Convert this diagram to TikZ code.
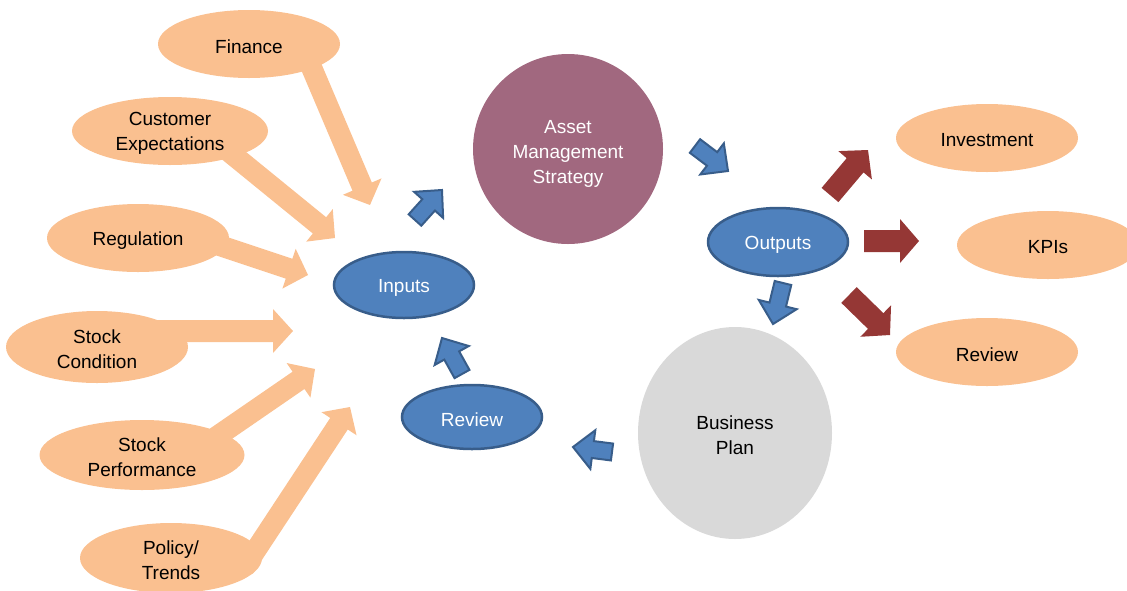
\documentclass[tikz,border=0pt]{standalone}
\usepackage{fontspec}
\setmainfont{Liberation Sans}
\usetikzlibrary{shapes.geometric,calc}

\definecolor{peach}{RGB}{250,192,144}
\definecolor{steel}{RGB}{79,129,189}
\definecolor{steeledge}{RGB}{56,93,138}
\definecolor{mauve}{RGB}{161,104,127}
\definecolor{brick}{RGB}{149,55,53}
\definecolor{silver}{RGB}{217,217,217}

% Block arrow polygon: #1 style, #2 tail, #3 tip,
% #4 half shaft width, #5 half head width, #6 head length
\newcommand\blockarrow[6]{%
  \path[#1]
    ($(#2)!#4!90:(#3)$)
    -- ($(#3)!#6!(#2)!#4!90:(#3)$)
    -- ($(#3)!#6!(#2)!#5!90:(#3)$)
    -- (#3)
    -- ($(#3)!#6!(#2)!#5!-90:(#3)$)
    -- ($(#3)!#6!(#2)!#4!-90:(#3)$)
    -- ($(#2)!#4!-90:(#3)$)
    -- cycle;}

\tikzset{
  txt/.style={font=\fontsize{19}{25}\selectfont, align=center},
  % caption sits slightly below the centre of its shape
  caption/.style={label={[txt, yshift=-2.5pt]center:{#1}}},
  wcaption/.style={label={[txt, text=white, yshift=-2.5pt]center:{#1}}},
  factor/.style={ellipse, fill=peach, inner sep=0pt,
    minimum width=182pt, minimum height=68pt},
  stage/.style={ellipse, fill=steel, draw=steeledge, line width=2.5pt,
    inner sep=0pt, minimum width=140pt, minimum height=66pt},
  feedarrow/.style={fill=peach},
  flowarrow/.style={fill=steel, draw=steeledge, line width=2pt, line join=miter},
  resultarrow/.style={fill=brick},
}

\begin{document}
\begin{tikzpicture}[x=1pt, y=-1pt]
\useasboundingbox (0,0) rectangle (1127,590);
\clip (0,0) rectangle (1127,590);

% arrow end points
\coordinate (finT) at (302,45);   \coordinate (finH) at (370,205);
\coordinate (custT) at (200,128); \coordinate (custH) at (335,238);
\coordinate (regT) at (170,229);  \coordinate (regH) at (308,275);
\coordinate (condT) at (150,331); \coordinate (condH) at (293,331);
\coordinate (perfT) at (190,455); \coordinate (perfH) at (315,369);
\coordinate (polT) at (244,568);  \coordinate (polH) at (350,407);

\coordinate (inT) at (415,220);   \coordinate (inH) at (442,190);
\coordinate (revT) at (462,374);  \coordinate (revH) at (442,338);
\coordinate (planT) at (612,452); \coordinate (planH) at (573,447);
\coordinate (amsT) at (695,146);  \coordinate (amsH) at (728,171);
\coordinate (outT) at (783,283);  \coordinate (outH) at (773,324);

\coordinate (invT) at (830,195);  \coordinate (invH) at (868,150);
\coordinate (kpiT) at (864,241);  \coordinate (kpiH) at (919,241);
\coordinate (rvT) at (849,295);   \coordinate (rvH) at (890,335);

% feeding arrows sit behind the factor ellipses
\blockarrow{feedarrow}{finT}{finH}{10.5pt}{21pt}{20pt}
\blockarrow{feedarrow}{custT}{custH}{10.5pt}{21pt}{20pt}
\blockarrow{feedarrow}{regT}{regH}{10.5pt}{21pt}{20pt}
\blockarrow{feedarrow}{condT}{condH}{11pt}{22pt}{20pt}
\blockarrow{feedarrow}{perfT}{perfH}{10.5pt}{21pt}{20pt}
\blockarrow{feedarrow}{polT}{polH}{10.5pt}{21pt}{20pt}

% input factors
\node[factor, caption=Finance] (fin) at (249,44) {};
\node[factor, minimum width=196pt, caption={Customer\\Expectations}] (cust) at (170,131) {};
\node[factor, caption=Regulation] (reg) at (138,238) {};
\node[factor, minimum height=72pt, caption={Stock\\Condition}] (cond) at (97,347) {};
\node[factor, minimum width=205pt, minimum height=70pt, caption={Stock\\Performance}] (perf) at (142,455) {};
\node[factor, minimum height=70pt, caption={Policy/\\Trends}] (pol) at (171,558) {};

% the cycle
\node[stage, wcaption=Inputs] (inputs) at (404,285) {};
\node[stage, minimum height=64pt, wcaption=Review] (review) at (472,417) {};
\node[circle, fill=mauve, minimum size=190pt, inner sep=0pt,
  label={[txt, text=white, yshift=-4.5pt]center:{Asset\\Management\\Strategy}}]
  (ams) at (568,149) {};
\node[stage, minimum height=68pt, wcaption=Outputs] (outputs) at (778,242) {};
\node[ellipse, fill=silver, minimum width=194pt, minimum height=212pt,
  inner sep=0pt, caption={Business\\Plan}] (plan) at (735,433) {};

\blockarrow{flowarrow}{inT}{inH}{8.5pt}{19.5pt}{20pt}
\blockarrow{flowarrow}{amsT}{amsH}{8.5pt}{19.5pt}{20pt}
\blockarrow{flowarrow}{outT}{outH}{8.5pt}{19.5pt}{20pt}
\blockarrow{flowarrow}{planT}{planH}{8.5pt}{19.5pt}{20pt}
\blockarrow{flowarrow}{revT}{revH}{8.5pt}{19.5pt}{20pt}

% outputs
\blockarrow{resultarrow}{invT}{invH}{11pt}{22pt}{20pt}
\blockarrow{resultarrow}{kpiT}{kpiH}{11pt}{22pt}{19pt}
\blockarrow{resultarrow}{rvT}{rvH}{11pt}{22pt}{20pt}

\node[factor, caption=Investment] (invest) at (987,138) {};
\node[factor, caption=KPIs] (kpis) at (1048,245) {};
\node[factor, caption=Review] (review2) at (987,352) {};
\end{tikzpicture}
\end{document}
